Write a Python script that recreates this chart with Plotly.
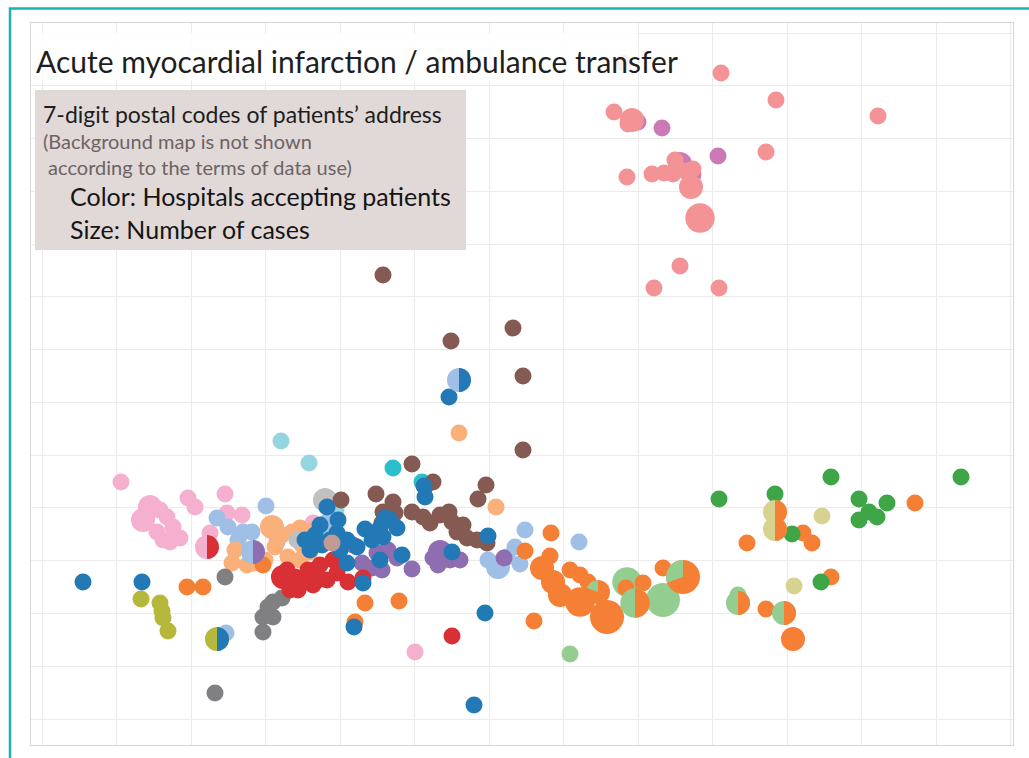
import numpy as np
import plotly.graph_objects as go

# ---------------- data (map units: easting, southing) ----------------
# Each hospital: postal-code locations of patients and number of cases there
blue_x = [83, 142, 354, 485, 474, 449, 424, 425, 365, 380, 390, 397, 385, 372, 383, 357, 347, 340, 337, 327, 338, 320, 330, 310, 347, 363, 402, 380, 452, 488, 305, 315, 322]
blue_y = [582, 582, 627, 613, 705, 397, 486, 497, 529, 528, 520, 528, 518, 540, 537, 547, 540, 550, 533, 507, 520, 525, 540, 550, 563, 583, 555, 560, 552, 536, 540, 535, 545]
blue_n = [1] * len(blue_x)

lblue_x = [266, 217, 228, 243, 252, 238, 226, 327, 322, 488, 498, 507, 520, 515, 525, 579, 277]
lblue_y = [506, 518, 527, 532, 532, 540, 633, 522, 530, 560, 567, 557, 564, 547, 530, 542, 542]
lblue_n = [1, 1, 1, 1, 1, 1, 1, 1, 1, 1, 2, 1, 1, 1, 1, 1, 1]

lorange_x = [235, 232, 247, 253, 272, 282, 292, 275, 288, 265, 302, 313, 310, 300, 318, 300, 459, 496]
lorange_y = [550, 563, 565, 563, 527, 535, 532, 547, 557, 560, 545, 530, 552, 528, 540, 560, 433, 507]
lorange_n = [1, 1, 1, 1, 2, 1, 1, 1, 1, 1, 1, 1, 1, 1, 1, 1, 1, 1]

orange_x = [187, 203, 263, 365, 399, 355, 534, 551, 525, 550, 542, 553, 560, 570, 580, 588, 580, 607, 626, 643, 663, 747, 803, 812, 915, 831, 766, 793]
orange_y = [587, 587, 565, 603, 601, 622, 621, 533, 551, 556, 568, 582, 595, 570, 575, 582, 602, 617, 588, 583, 568, 543, 533, 543, 503, 577, 609, 639]
orange_n = [1, 1, 1, 1, 1, 1, 1, 1, 1, 1, 2, 2, 2, 1, 1, 1, 3, 4, 1, 1, 1, 1, 1, 1, 1, 1, 1, 2]

lgreen_x = [570, 627, 663, 738]
lgreen_y = [654, 582, 600, 595]
lgreen_n = [1, 3, 4, 1]

green_x = [719, 775, 792, 831, 859, 869, 859, 877, 887, 961, 821]
green_y = [499, 494, 534, 477, 499, 512, 520, 517, 503, 477, 582]
green_n = [1] * len(green_x)

lolive_x = [822, 794]
lolive_y = [516, 586]
lolive_n = [1, 1]

olive_x = [141, 160, 162, 163, 168]
olive_y = [599, 603, 611, 618, 631]
olive_n = [1, 1, 1, 1, 1]

grey_x = [225, 273, 282, 268, 263, 273, 263, 215]
grey_y = [577, 602, 598, 607, 617, 617, 632, 693]
grey_n = [1] * len(grey_x)

lgrey_x = [325, 297]
lgrey_y = [500, 540]
lgrey_n = [2, 1]

lcyan_x = [281, 309, 336]
lcyan_y = [441, 463, 510]
lcyan_n = [1, 1, 1]

cyan_x = [393, 422]
cyan_y = [468, 482]
cyan_n = [1, 1]

brown_x = [383, 451, 513, 523, 523, 412, 433, 425, 486, 478, 376, 393, 383, 395, 382, 412, 423, 430, 440, 449, 452, 463, 457, 467, 477, 487, 341]
brown_y = [275, 341, 328, 376, 450, 464, 482, 487, 485, 499, 494, 502, 512, 513, 523, 512, 517, 523, 515, 512, 522, 525, 532, 538, 540, 543, 500]
brown_n = [1] * len(brown_x)

purple_x = [353, 362, 372, 382, 377, 388, 412, 397, 440, 438, 450, 460, 433, 504]
purple_y = [545, 563, 568, 570, 553, 550, 569, 558, 552, 565, 560, 560, 558, 558]
purple_n = [1, 1, 1, 1, 1, 1, 1, 1, 2, 1, 1, 1, 1, 1]

red_x = [283, 295, 303, 313, 318, 308, 320, 333, 337, 348, 327, 298, 290, 363, 452, 287, 300]
red_y = [577, 577, 582, 585, 580, 570, 565, 560, 573, 582, 580, 590, 590, 578, 636, 570, 585]
red_n = [2, 1, 1, 1, 1, 1, 1, 1, 1, 1, 1, 1, 1, 1, 1, 1, 1]

lbrown_x = [332]
lbrown_y = [543]
lbrown_n = [1]

salmon_x = [623, 721, 776, 878, 614, 632, 628, 766, 627, 652, 664, 673, 675, 685, 693, 691, 700, 680, 654, 719]
salmon_y = [63, 73, 100, 116, 112, 120, 124, 152, 177, 174, 173, 174, 160, 171, 169, 187, 218, 266, 288, 288]
salmon_n = [1, 1, 1, 1, 1, 2, 1, 1, 1, 1, 1, 1, 1, 1, 1, 2, 3, 1, 1, 1]

magenta_x = [662, 718, 680, 693, 638]
magenta_y = [128, 156, 164, 175, 122]
magenta_n = [1, 1, 2, 1, 1]

lpink_x = [121, 150, 143, 167, 173, 157, 170, 180, 163, 160, 188, 195, 225, 227, 242, 210, 313, 415]
lpink_y = [482, 507, 520, 517, 527, 532, 542, 538, 540, 510, 498, 507, 494, 513, 515, 533, 523, 652]
lpink_n = [1, 2, 2, 1, 1, 1, 1, 1, 1, 1, 1, 1, 1, 1, 1, 1, 1, 1]

# postal codes shared by two hospitals (pie markers)
split_x = [207, 253, 459, 217, 775, 775, 738, 784, 635, 683, 598]
split_y = [547, 552, 380, 639, 512, 529, 603, 613, 603, 577, 592]
split_n = [2, 2, 2, 2, 2, 2, 2, 2, 3, 4, 2]
split_base = ["lpink", "lblue", "lblue", "olive", "lolive", "lolive", "lgreen", "lgreen", "lgreen", "orange", "orange"]
split_other = ["red", "purple", "blue", "blue", "orange", "orange", "orange", "orange", "orange", "lgreen", "lgreen"]
split_from = [0, 0, 0, 0, 0, 0, 0, 0, 0, 250, 290]   # degrees clockwise from north
split_to = [180, 180, 180, 180, 180, 180, 180, 180, 180, 360, 360]

# ---------------- styles ----------------
COLORS = {
    "blue": "#2279b6", "lblue": "#a0bfe6", "orange": "#f47f35", "lorange": "#f9b07a",
    "green": "#3fa648", "lgreen": "#94cd90", "red": "#d93035", "salmon": "#f49396",
    "purple": "#8e6db1", "brown": "#845a52", "lbrown": "#c09a93", "magenta": "#cc7ab6",
    "lpink": "#f5b0d0", "grey": "#808083", "lgrey": "#c0c0c0", "olive": "#b6b83c",
    "lolive": "#d6d390", "cyan": "#2abfca", "lcyan": "#95d5df",
}
SIZEREF = 1 / 144.5  # area mode: one case -> 17 px diameter

series = [
    ("lpink", lpink_x, lpink_y, lpink_n), ("lblue", lblue_x, lblue_y, lblue_n),
    ("lorange", lorange_x, lorange_y, lorange_n), ("lgrey", lgrey_x, lgrey_y, lgrey_n),
    ("lcyan", lcyan_x, lcyan_y, lcyan_n), ("grey", grey_x, grey_y, grey_n),
    ("olive", olive_x, olive_y, olive_n), ("lolive", lolive_x, lolive_y, lolive_n),
    ("lgreen", lgreen_x, lgreen_y, lgreen_n), ("orange", orange_x, orange_y, orange_n),
    ("green", green_x, green_y, green_n), ("cyan", cyan_x, cyan_y, cyan_n),
    ("brown", brown_x, brown_y, brown_n), ("purple", purple_x, purple_y, purple_n),
    ("red", red_x, red_y, red_n), ("blue", blue_x, blue_y, blue_n),
    ("lbrown", lbrown_x, lbrown_y, lbrown_n), ("magenta", magenta_x, magenta_y, magenta_n),
    ("salmon", salmon_x, salmon_y, salmon_n),
]

fig = go.Figure()
for key, xs, ys, ns in series:
    fig.add_trace(go.Scatter(
        x=xs, y=ys, mode="markers", name=key, hoverinfo="skip",
        marker=dict(size=ns, sizemode="area", sizeref=SIZEREF, color=COLORS[key],
                    line=dict(width=0), opacity=1),
    ))

# pie markers: base circle plus wedge
fig.add_trace(go.Scatter(
    x=split_x, y=split_y, mode="markers", hoverinfo="skip",
    marker=dict(size=split_n, sizemode="area", sizeref=SIZEREF, opacity=1,
                color=[COLORS[k] for k in split_base], line=dict(width=0)),
))
for cx, cy, n, other, a0, a1 in zip(split_x, split_y, split_n, split_other, split_from, split_to):
    r = np.sqrt(n / (2 * SIZEREF))  # radius in px == map units (1 unit per px)
    t = np.radians(np.linspace(a0, a1, 40))
    wx = np.concatenate([[cx], cx + r * np.sin(t), [cx]])
    wy = np.concatenate([[cy], cy - r * np.cos(t), [cy]])
    fig.add_trace(go.Scatter(x=wx, y=wy, mode="lines", fill="toself", fillcolor=COLORS[other],
                             line=dict(width=0, color=COLORS[other]), hoverinfo="skip"))

FONT = "Lato"
shapes = [
    dict(type="rect", xref="x", yref="y", x0=31, x1=638, y0=33, y1=80, layer="above",
         fillcolor="rgba(255,255,255,0.85)", line=dict(width=0)),
    dict(type="rect", xref="x", yref="y", x0=35, x1=466, y0=90, y1=250, layer="above",
         fillcolor="#e0d9d7", line=dict(width=0)),
]
# teal frame (paper coordinates from pixel layout)
def px(xp):
    return (xp - 31) / 982
def py(yp):
    return (745 - yp) / 722
shapes.append(dict(type="path", xref="paper", yref="paper", layer="above",
                   path=f"M {px(10)} {py(770)} L {px(10)} {py(8.5)} L {px(1040)} {py(8.5)}",
                   line=dict(color="#1ab3ad", width=2.5)))

annotations = [
    dict(x=34, y=61, text="Acute myocardial infarction / ambulance transfer", font=dict(size=30, color="#1e1e1e", family=FONT)),
    dict(x=41, y=114, text="7-digit postal codes of patients\u2019 address", font=dict(size=23, color="#1e1e1e", family=FONT)),
    dict(x=41, y=141, text="(Background map is not shown", font=dict(size=20, color="#6e6262", family=FONT)),
    dict(x=41, y=167, text="\u00a0according to the terms of data use)", font=dict(size=20, color="#6e6262", family=FONT)),
    dict(x=68, y=196, text="Color: Hospitals accepting patients", font=dict(size=25, color="#151515", family=FONT)),
    dict(x=68, y=229, text="Size: Number of cases", font=dict(size=25, color="#151515", family=FONT)),
]
for a in annotations:
    a.update(xref="x", yref="y", xanchor="left", yanchor="middle", showarrow=False)

fig.update_layout(
    width=1029, height=758, margin=dict(l=31, r=16, t=23, b=13),
    paper_bgcolor="white", plot_bgcolor="white", showlegend=False,
    shapes=shapes, annotations=annotations,
    xaxis=dict(range=[31, 1013], tick0=42, dtick=74.5, showticklabels=False, ticks="",
               showgrid=True, gridcolor="#ebebeb", gridwidth=1.2, zeroline=False,
               showline=True, linecolor="#d6d6d6", linewidth=1, mirror=True, fixedrange=True),
    yaxis=dict(range=[745, 23], tick0=33, dtick=52.77, showticklabels=False, ticks="",
               showgrid=True, gridcolor="#ebebeb", gridwidth=1.2, zeroline=False,
               showline=True, linecolor="#d6d6d6", linewidth=1, mirror=True, fixedrange=True),
)

fig.write_html("out.html", config={"displayModeBar": False},
               post_script="document.body.style.margin='0';document.body.style.overflow='hidden';")
